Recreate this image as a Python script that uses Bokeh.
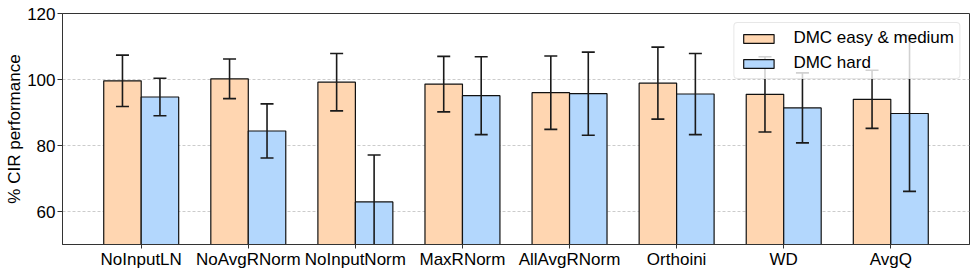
from bokeh.plotting import figure
from bokeh.models import Range1d, FixedTicker, ColumnDataSource, Legend, LegendItem
from bokeh.embed import file_html
from bokeh.resources import INLINE

categories = ["NoInputLN", "NoAvgRNorm", "NoInputNorm", "MaxRNorm",
              "AllAvgRNorm", "Orthoini", "WD", "AvgQ"]
easy_mean = [99.6, 100.2, 99.2, 98.6, 96.0, 98.9, 95.5, 94.0]
easy_err = [7.8, 6.0, 8.7, 8.4, 11.1, 10.9, 11.4, 8.8]
hard_mean = [94.7, 84.4, 62.9, 95.1, 95.7, 95.6, 91.4, 89.7]
hard_err = [5.7, 8.2, 14.2, 11.8, 12.6, 12.3, 10.6, 23.6]

series_names = ["DMC easy & medium", "DMC hard"]
colors = ["#ffd6b1", "#b3d7fd"]
bar_w = 0.35
FONT = "Liberation Sans"
FS = "17px"

idx = list(range(len(categories)))

p = figure(width=974, height=272, output_backend="svg", toolbar_location=None,
           x_range=Range1d(-0.735, len(categories) - 1 + 0.735),
           y_range=Range1d(50, 120))
p.min_border_left = 62
p.min_border_right = 5
p.min_border_top = 13
p.min_border_bottom = 28
p.background_fill_color = "white"
p.border_fill_color = "white"
p.outline_line_color = "#333333"
p.outline_line_width = 1

items = []
for k, (means, errs) in enumerate([(easy_mean, easy_err), (hard_mean, hard_err)]):
    offset = (k - 0.5) * bar_w
    xs = [i + offset for i in idx]
    src = ColumnDataSource(dict(
        x=xs, top=means,
        up=[m + e for m, e in zip(means, errs)],
        lo=[m - e for m, e in zip(means, errs)]))
    r = p.vbar(x="x", top="top", bottom=0, width=bar_w, source=src,
               fill_color=colors[k], line_color="#111111", line_width=1.2)
    items.append(LegendItem(label=series_names[k], renderers=[r]))
    p.segment(x0="x", y0="lo", x1="x", y1="up", source=src,
              line_color="#1a1a1a", line_width=1.6)
    p.scatter(x="x", y="up", source=src, marker="dash", size=13,
              line_color="#1a1a1a", line_width=1.6)
    p.scatter(x="x", y="lo", source=src, marker="dash", size=13,
              line_color="#1a1a1a", line_width=1.6)

legend = Legend(items=items, location="top_right")
legend.margin = 9
legend.padding = 5
legend.spacing = 5
legend.label_height = 20
legend.glyph_height = 11
legend.glyph_width = 38
legend.label_standoff = 16
legend.label_text_font = FONT
legend.label_text_font_size = FS
legend.label_text_color = "black"
legend.background_fill_color = "white"
legend.background_fill_alpha = 0.8
legend.border_line_color = "#d0d0d0"
legend.border_line_width = 1
legend.border_radius = 4
p.add_layout(legend)

# axes
p.xaxis.ticker = FixedTicker(ticks=idx)
p.xaxis.major_label_overrides = {i: c for i, c in zip(idx, categories)}
p.xaxis.minor_tick_line_color = None
p.xaxis.major_tick_out = 4
p.xaxis.major_tick_in = 0
p.xaxis.major_label_standoff = 1
p.yaxis.ticker = FixedTicker(ticks=[60, 80, 100, 120])
p.yaxis.minor_tick_line_color = None
p.yaxis.major_tick_out = 5
p.yaxis.major_tick_in = 0
p.yaxis.major_label_standoff = 2
p.yaxis.axis_label = "% CIR performance"
p.yaxis.axis_label_standoff = 0
p.yaxis.axis_label_text_font = FONT
p.yaxis.axis_label_text_font_size = FS
p.yaxis.axis_label_text_font_style = "normal"
p.yaxis.axis_label_text_color = "black"
for ax in (p.xaxis, p.yaxis):
    ax.major_label_text_font = FONT
    ax.major_label_text_font_size = FS
    ax.major_label_text_color = "black"
    ax.axis_line_color = "#333333"
    ax.major_tick_line_color = "#333333"

p.xgrid.grid_line_color = None
p.ygrid.grid_line_color = "#cccccc"
p.ygrid.grid_line_dash = "3 2"
p.ygrid.grid_line_width = 1

open("out.html", "w").write(file_html(p, INLINE))
